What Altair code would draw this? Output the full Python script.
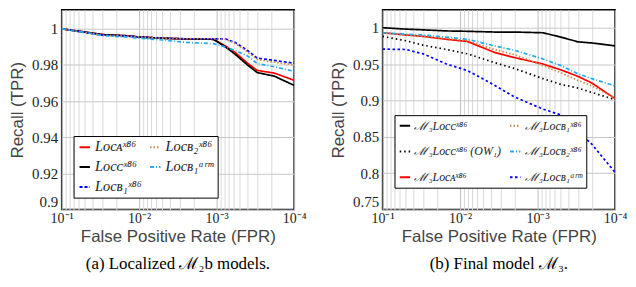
import json
import altair as alt
import pandas as pd

# ---------------- data ----------------
fpr_a = [1e-1, 5e-2, 3e-2, 1.5e-2, 1e-2, 5e-3, 2.5e-3, 1.1e-3, 7.7e-4, 5.8e-4, 4e-4, 3e-4, 1.8e-4, 1e-4]
a_loc_A = [1.0, 0.9982, 0.9968, 0.9962, 0.9955, 0.9948, 0.9944, 0.9942, 0.9905, 0.987, 0.981, 0.977, 0.9755, 0.9715]
a_loc_C = [1.0, 0.9982, 0.9968, 0.9962, 0.9955, 0.9948, 0.9944, 0.9942, 0.990, 0.986, 0.980, 0.9758, 0.9738, 0.9687]
a_loc_B1 = [1.0, 0.998, 0.9965, 0.996, 0.9955, 0.9948, 0.9945, 0.9945, 0.9944, 0.9925, 0.988, 0.9838, 0.9825, 0.981]
a_loc_B2 = [1.0, 0.998, 0.9965, 0.996, 0.9955, 0.9948, 0.9945, 0.9945, 0.9943, 0.992, 0.9872, 0.983, 0.9815, 0.980]
a_loc_B1_arm = [1.0, 0.998, 0.9963, 0.9955, 0.9948, 0.9938, 0.9925, 0.9918, 0.990, 0.988, 0.985, 0.9808, 0.979, 0.9765]

fpr_b = [1e-1, 5e-2, 3e-2, 1.5e-2, 8e-3, 3.6e-3, 2e-3, 8.5e-4, 5e-4, 3e-4, 2e-4, 1e-4]
b_C = [1.0, 0.998, 0.997, 0.9955, 0.995, 0.994, 0.994, 0.993, 0.987, 0.9805, 0.979, 0.975]
b_C_OW1 = [0.988, 0.982, 0.976, 0.970, 0.964, 0.952, 0.944, 0.930, 0.922, 0.917, 0.911, 0.901]
b_A = [0.993, 0.990, 0.988, 0.984, 0.981, 0.966, 0.959, 0.950, 0.942, 0.933, 0.924, 0.9025]
b_B1 = [0.993, 0.990, 0.988, 0.985, 0.982, 0.970, 0.963, 0.948, 0.938, 0.9275, 0.920, 0.903]
b_B2 = [0.993, 0.991, 0.990, 0.987, 0.984, 0.975, 0.969, 0.957, 0.948, 0.9365, 0.930, 0.920]
b_B1_arm = [0.9705, 0.970, 0.964, 0.950, 0.941, 0.921, 0.905, 0.888, 0.880, 0.857, 0.840, 0.801]

names_a = ["Locᴀˣ⁸⁶", "Locᴄˣ⁸⁶", "Locʙ₁ˣ⁸⁶", "Locʙ₂ˣ⁸⁶", "Locʙ₁ᵃʳᵐ"]
names_b = ["ℳ₃Locᴄˣ⁸⁶", "ℳ₃Locᴄˣ⁸⁶ (OW₁)", "ℳ₃Locᴀˣ⁸⁶", "ℳ₃Locʙ₁ˣ⁸⁶", "ℳ₃Locʙ₂ˣ⁸⁶", "ℳ₃Locʙ₁ᵃʳᵐ"]

x_tick_labels = ["10⁻¹", "10⁻²", "10⁻³", "10⁻⁴"]
y_ticks_a = [0.9, 0.92, 0.94, 0.96, 0.98, 1.0]
y_ticks_b = [0.75, 0.8, 0.85, 0.9, 0.95, 1.0]
caption_a = "(a) Localized ℳ₂b models."
caption_b = "(b) Final model ℳ₃."

# ---------------- styles ----------------
RED, BLACK, BLUE, ORANGE, CYAN = "#ff0000", "#000000", "#0000ff", "#cc8844", "#22aaee"
colors_a = [RED, BLACK, BLUE, ORANGE, CYAN]
dash_a = [[1, 0], [1, 0], [3, 2], [1.5, 2], [4, 2, 1, 2]]
colors_b = [BLACK, BLACK, RED, ORANGE, CYAN, BLUE]
dash_b = [[1, 0], [1.5, 3], [1, 0], [1.5, 2], [4, 2, 1, 2], [2.5, 2.5]]

SERIF = "Liberation Serif"
SANS = "Liberation Sans"
W, H = 234, 201

# x ticks: decades + minor
tick_vals = []
for d in range(1, 4):
    for k in range(10, 0, -1):
        if k == 10 and d > 1:
            continue
        tick_vals.append(float(f"{k}e-{d + 1}") if k < 10 else float(f"1e-{d}"))
tick_vals.append(1e-4)

dec_test = "abs(log(datum.value)/LN10 - round(log(datum.value)/LN10)) < 1e-6"
exp_idx = "round(-log(datum.value)/LN10) - 1"
label_expr = f"({dec_test}) ? {json.dumps(x_tick_labels, ensure_ascii=False)}[{exp_idx}] : ''"
grid_color = {"condition": {"test": dec_test, "value": "#bdbdbd"}, "value": "#d9d9d9"}


def long_df(fpr, series, names):
    rows = []
    for name, vals in zip(names, series):
        for f, v in zip(fpr, vals):
            rows.append({"fpr": f, "tpr": v, "model": name})
    return pd.DataFrame(rows)


def panel(df, names, colors, dashes, ydom, yticks, caption, fsize, rowpad, colpad, ly):
    legend = alt.Legend(
        title=None, orient="none", legendX=12, legendY=ly, columns=2,
        fillColor="white", strokeColor="black", padding=4,
        symbolType="stroke", symbolSize=110, symbolStrokeWidth=2,
        labelFont=SERIF, labelFontSize=fsize, labelFontStyle="italic", labelColor="#222",
        rowPadding=rowpad, columnPadding=colpad, labelLimit=200, labelOffset=3,
    )
    return alt.Chart(df, title=alt.Title(
        caption, orient="bottom", anchor="middle", font=SERIF, fontSize=17,
        fontWeight="normal", color="black", offset=12,
    )).mark_line(strokeWidth=1.7, clip=True).encode(
        x=alt.X("fpr:Q",
                scale=alt.Scale(type="log", domain=[0.1, 1e-4], nice=False),
                axis=alt.Axis(values=tick_vals, labelExpr=label_expr, grid=True,
                              gridColor=grid_color, gridWidth=1, ticks=False, domain=False,
                              labelOverlap=False, labelFlush=False, labelFont=SERIF,
                              labelFontSize=14, labelColor="#222", labelPadding=2,
                              title="False Positive Rate (FPR)", titleFont=SANS,
                              titleFontSize=17, titleFontWeight="normal", titleColor="#444",
                              titlePadding=3)),
        y=alt.Y("tpr:Q",
                scale=alt.Scale(domain=ydom, nice=False, zero=False),
                axis=alt.Axis(values=yticks, format=".2~f", grid=True, gridColor="#c8c8c8",
                              ticks=False, domain=False, labelFont=SERIF, labelFontSize=15,
                              labelColor="#222", labelPadding=4, labelFlush=True,
                              title="Recall (TPR)", titleFont=SANS, titleFontSize=17,
                              titleFontWeight="normal", titleColor="#444", titlePadding=5)),
        color=alt.Color("model:N", scale=alt.Scale(domain=names, range=colors), legend=legend),
        strokeDash=alt.StrokeDash("model:N", scale=alt.Scale(domain=names, range=dashes), legend=legend),
        order=alt.Order("fpr:Q", sort="descending"),
    ).properties(width=W, height=H)


df_a = long_df(fpr_a, [a_loc_A, a_loc_C, a_loc_B1, a_loc_B2, a_loc_B1_arm], names_a)
df_b = long_df(fpr_b, [b_C, b_C_OW1, b_A, b_B1, b_B2, b_B1_arm], names_b)

pa = panel(df_a, names_a, colors_a, dash_a, [0.9, 1.0105], y_ticks_a, caption_a, 14.5, 5, 4, 127)
pb = panel(df_b, names_b, colors_b, dash_b, [0.75, 1.0245], y_ticks_b, caption_b, 12, 13, 4, 106)

chart = alt.hconcat(pa, pb, spacing=22).resolve_scale(
    color="independent", strokeDash="independent"
).properties(padding=0).configure_view(stroke="black", strokeWidth=1.5)

chart.save("out.html", embed_options={"renderer": "svg", "actions": False})
